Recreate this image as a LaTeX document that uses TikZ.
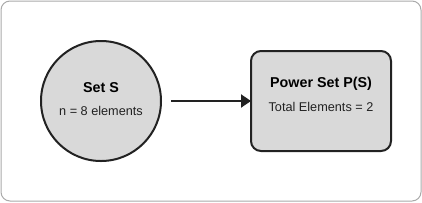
\documentclass[tikz,border=0pt]{standalone}
\usepackage{fontspec}
\setmainfont{Liberation Sans}
\usetikzlibrary{arrows.meta}
\definecolor{nodefill}{HTML}{D9D9D9}
\definecolor{nodeline}{HTML}{222222}
\definecolor{frameline}{HTML}{AAAAAA}
\tikzset{
  every node/.style={inner sep=0pt, outer sep=0pt},
  shapebox/.style={draw=nodeline, line width=2pt, fill=nodefill},
  titletext/.style={anchor=base, font=\fontsize{14.3}{16}\selectfont\bfseries, text=black},
  bodytext/.style={anchor=base, font=\fontsize{12.7}{14}\selectfont, text=nodeline},
  link/.style={draw=nodeline, line width=2pt, -{Triangle[length=10pt, width=13pt]}}
}
\begin{document}
\begin{tikzpicture}[x=1pt, y=-1pt]
  \useasboundingbox (0,0) rectangle (422,202);
  \draw[frameline, line width=1pt, rounded corners=9pt, fill=white] (1,1) rectangle (421,201);
  \node[shapebox, circle, minimum size=120pt] (set) at (101,101) {};
  \node[shapebox, rectangle, rounded corners=10pt, minimum width=140pt, minimum height=100pt] (ps) at (321,101) {};
  \node[titletext] (settitle) at (101,92) {Set S};
  \node[bodytext] (setbody) at (101,115) {n = 8 elements};
  \node[titletext] (pstitle) at (321,87) {Power Set P(S)};
  \node[bodytext] (psbody) at (321,111) {Total Elements = 2};
  \coordinate (start) at (171,101);
  \draw[link] (start) -- (ps.west);
\end{tikzpicture}
\end{document}
